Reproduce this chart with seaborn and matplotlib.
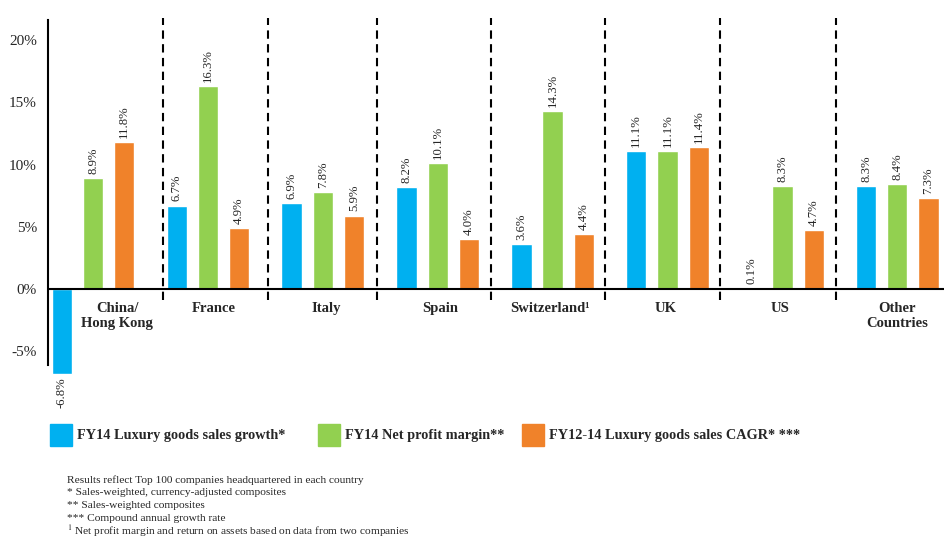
import matplotlib
matplotlib.use("Agg")
import matplotlib.pyplot as plt
from matplotlib.patches import Rectangle
import seaborn as sns
import pandas as pd

categories = ["China/\nHong Kong", "France", "Italy", "Spain", "Switzerland¹",
              "UK", "US", "Other\nCountries"]
series = ["FY14 Luxury goods sales growth*", "FY14 Net profit margin**",
          "FY12-14 Luxury goods sales CAGR* ***"]
sales_growth = [-6.8, 6.7, 6.9, 8.2, 3.6, 11.1, 0.1, 8.3]
profit_margin = [8.9, 16.3, 7.8, 10.1, 14.3, 11.1, 8.3, 8.4]
sales_cagr = [11.8, 4.9, 5.9, 4.0, 4.4, 11.4, 4.7, 7.3]
yticks = [-5, 0, 5, 10, 15, 20]
footnotes = [
    "Results reflect Top 100 companies headquartered in each country",
    "* Sales-weighted, currency-adjusted composites",
    "** Sales-weighted composites",
    "*** Compound annual growth rate",
    r"$^{1}$ Net profit margin and return on assets based on data from two companies",
]
colors = ["#00B0F0", "#92D050", "#F0822A"]

rows = []
for s, vals in zip(series, [sales_growth, profit_margin, sales_cagr]):
    for c, v in zip(categories, vals):
        rows.append({"country": c, "series": s, "value": v})
df = pd.DataFrame(rows)

sns.set_style("white")
plt.rcParams["font.family"] = ["Liberation Serif", "DejaVu Serif"]
plt.rcParams["mathtext.fontset"] = "stix"

fig = plt.figure(figsize=(9.45, 5.38), dpi=100)
ax = fig.add_axes([48 / 945, 1 - 380 / 538, 1 - 48 / 945, 362 / 538])

sns.barplot(data=df, x="country", y="value", hue="series", order=categories,
            hue_order=series, palette=colors, width=0.816, gap=0.35,
            saturation=1, legend=False, ax=ax, errorbar=None)

for cont in ax.containers:
    ax.bar_label(cont, labels=[f"{b.get_height():.1f}%" for b in cont],
                 rotation=90, padding=3, fontsize=9.2)

ax.set_xlim(-0.392, 7.415)
ax.set_ylim(-7.31, 21.77)
ax.set_yticks(yticks)
ax.set_yticklabels([f"{t}%" for t in yticks], fontsize=11)
ax.tick_params(axis="y", length=0, pad=8)
ax.set_xticks([])
ax.set_xlabel("")
ax.set_ylabel("")
for sp in ["top", "right", "bottom"]:
    ax.spines[sp].set_visible(False)
ax.spines["left"].set_linewidth(1.5)
ax.spines["left"].set_color("black")
ax.spines["left"].set_bounds(-6.1, 21.6)
ax.axhline(0, color="black", lw=1.5, zorder=3)

dividers = [0.61, 1.52, 2.47, 3.46, 4.46, 5.46, 6.47]
ax.vlines(dividers, -0.9, 21.77, colors="black", lw=1.5,
          linestyles=(0, (4, 2.6)), zorder=3)

label_x = [0.21, 1.05, 2.03, 3.02, 3.98, 4.98, 5.98, 7.0]
for x, c in zip(label_x, categories):
    ax.text(x, -1.05, c, ha="center", va="top", fontsize=10.5,
            fontweight="bold", linespacing=1.15)

# legend
leg_x = [50, 318, 522]
for x, col, s in zip(leg_x, colors, series):
    fig.add_artist(Rectangle((x / 945, 1 - 446 / 538), 22 / 945, 22 / 538,
                             transform=fig.transFigure, color=col))
    fig.text((x + 27) / 945, 1 - 436 / 538, s, ha="left", va="center",
             fontsize=10.3, fontweight="bold")

for i, t in enumerate(footnotes):
    fig.text(67 / 945, 1 - (480 + 12.7 * i) / 538, t, ha="left", va="center",
             fontsize=8.2)

fig.savefig("out.png", dpi=100)
